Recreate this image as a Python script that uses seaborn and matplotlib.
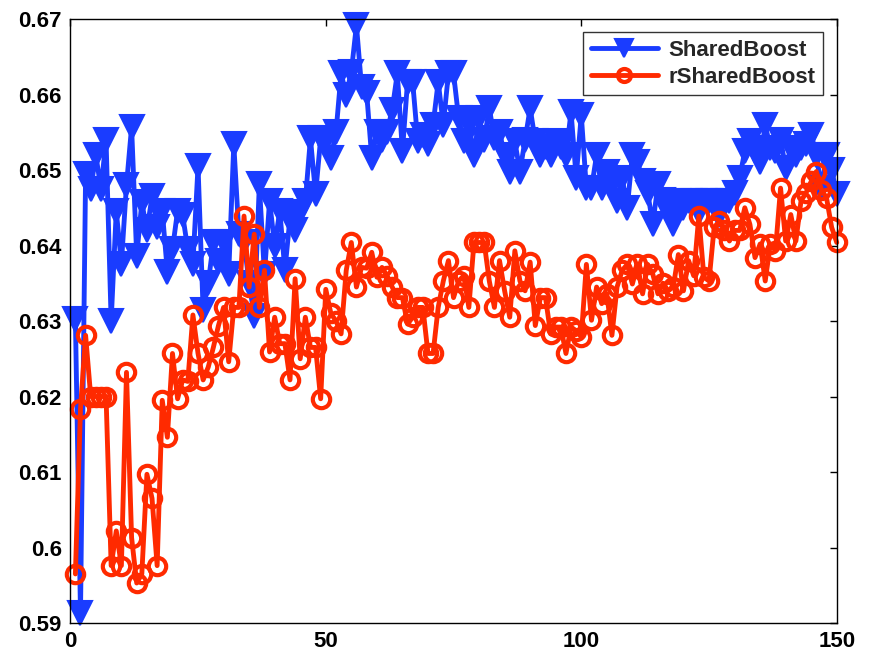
import numpy as np
import pandas as pd
import matplotlib
matplotlib.use("Agg")
import matplotlib.pyplot as plt
import seaborn as sns

# values (iterations 1..150)
iterations = np.arange(1, 151)

shared_boost = [
    .6303, .5913, .6495, .6475, .6520, .6475, .6540, .6300, .6446, .6376,
    .6480, .6557, .6386, .6457, .6420, .6465, .6425, .6446, .6365, .6395,
    .6446, .6440, .6395, .6376, .6505, .6314, .6350, .6404, .6380, .6404,
    .6362, .6534, .6415, .6405, .6350, .6307, .6481, .6362, .6459, .6400,
    .6446, .6367, .6437, .6420, .6445, .6459, .6542, .6468, .6542, .6540,
    .6516, .6550, .6628, .6600, .6630, .6692, .6610, .6602, .6516, .6551,
    .6540, .6551, .6580, .6628, .6525, .6617, .6617, .6538, .6547, .6535,
    .6560, .6617, .6560, .6628, .6628, .6569, .6538, .6560, .6520, .6569,
    .6540, .6582, .6542, .6550, .6520, .6498, .6538, .6498, .6540, .6582,
    .6538, .6520, .6530, .6520, .6538, .6530, .6520, .6577, .6490, .6573,
    .6476, .6476, .6520, .6476, .6498, .6480, .6459, .6490, .6450, .6520,
    .6511, .6485, .6470, .6428, .6481, .6460, .6445, .6428, .6459, .6450,
    .6459, .6459, .6445, .6459, .6459, .6459, .6440, .6459, .6459, .6470,
    .6490, .6525, .6538, .6525, .6511, .6560, .6529, .6525, .6540, .6503,
    .6529, .6520, .6529, .6535, .6547, .6520, .6476, .6520, .6500, .6468,
]

r_shared_boost = [
    .5965, .6184, .6281, .6200, .6200, .6200, .6200, .5976, .6022, .5976,
    .6232, .6013, .5953, .5965, .6097, .6065, .5976, .6195, .6146, .6257,
    .6197, .6222, .6220, .6308, .6257, .6222, .6239, .6265, .6294, .6318,
    .6246, .6318, .6318, .6439, .6345, .6415, .6318, .6367, .6259, .6305,
    .6270, .6270, .6222, .6356, .6250, .6305, .6265, .6265, .6197, .6342,
    .6310, .6300, .6283, .6367, .6404, .6345, .6371, .6370, .6391, .6358,
    .6371, .6360, .6345, .6331, .6331, .6296, .6305, .6318, .6318, .6257,
    .6257, .6318, .6353, .6380, .6331, .6353, .6360, .6318, .6404, .6404,
    .6404, .6353, .6318, .6380, .6340, .6305, .6393, .6353, .6340, .6378,
    .6294, .6331, .6331, .6283, .6292, .6292, .6257, .6292, .6287, .6279,
    .6375, .6301, .6345, .6323, .6336, .6281, .6345, .6367, .6375, .6349,
    .6375, .6336, .6375, .6362, .6336, .6350, .6340, .6345, .6388, .6340,
    .6380, .6360, .6439, .6358, .6353, .6424, .6432, .6420, .6406, .6420,
    .6420, .6450, .6428, .6384, .6402, .6353, .6402, .6393, .6476, .6406,
    .6441, .6406, .6459, .6470, .6485, .6498, .6474, .6463, .6424, .6404,
]

y_ticks = [0.59, 0.60, 0.61, 0.62, 0.63, 0.64, 0.65, 0.66, 0.67]
y_tick_labels = ['0.59', '0.6', '0.61', '0.62', '0.63', '0.64', '0.65', '0.66', '0.67']
x_ticks = [0, 50, 100, 150]

df = pd.DataFrame({'iter': iterations, 'SharedBoost': shared_boost,
                   'rSharedBoost': r_shared_boost})

sns.set_style("white")
plt.rcParams['font.family'] = ['Liberation Sans', 'DejaVu Sans']
plt.rcParams['font.weight'] = 'bold'

fig = plt.figure(figsize=(8.73, 6.56), dpi=100)
ax = fig.add_axes([0.0805, 0.0503, 0.878, 0.9207])

blue = '#1a3cff'
red = '#ff2a00'

sns.lineplot(data=df, x='iter', y='SharedBoost', ax=ax, color=blue,
             linewidth=3.5, marker='v', markersize=17, markeredgewidth=1.5,
             markerfacecolor=blue, markeredgecolor=blue,
             label='SharedBoost', clip_on=False)
sns.lineplot(data=df, x='iter', y='rSharedBoost', ax=ax, color=red,
             linewidth=3.5, marker='o', markersize=12.5, markeredgewidth=3,
             markerfacecolor='none', markeredgecolor=red,
             label='rSharedBoost', clip_on=False)

ax.set_xlim(0, 150)
ax.set_ylim(0.59, 0.67)
ax.set_xticks(x_ticks)
ax.set_yticks(y_ticks)
ax.set_yticklabels(y_tick_labels)
ax.set_xlabel('')
ax.set_ylabel('')
ax.tick_params(direction='in', length=5, width=1, top=True, right=True,
               labelsize=16, pad=6, colors='black')
for lab in ax.get_xticklabels() + ax.get_yticklabels():
    lab.set_fontweight('bold')
for sp in ax.spines.values():
    sp.set_visible(True)
    sp.set_color('black')
    sp.set_linewidth(1)

leg = ax.legend(loc='upper right', fontsize=16, frameon=True, fancybox=False,
                edgecolor='black', borderpad=0.35, handlelength=3.0,
                labelspacing=0.25, borderaxespad=0.6, handletextpad=0.5,
                markerscale=0.75)
leg.get_frame().set_linewidth(1)
for t in leg.get_texts():
    t.set_fontweight('bold')

fig.savefig('out.png', dpi=100)
